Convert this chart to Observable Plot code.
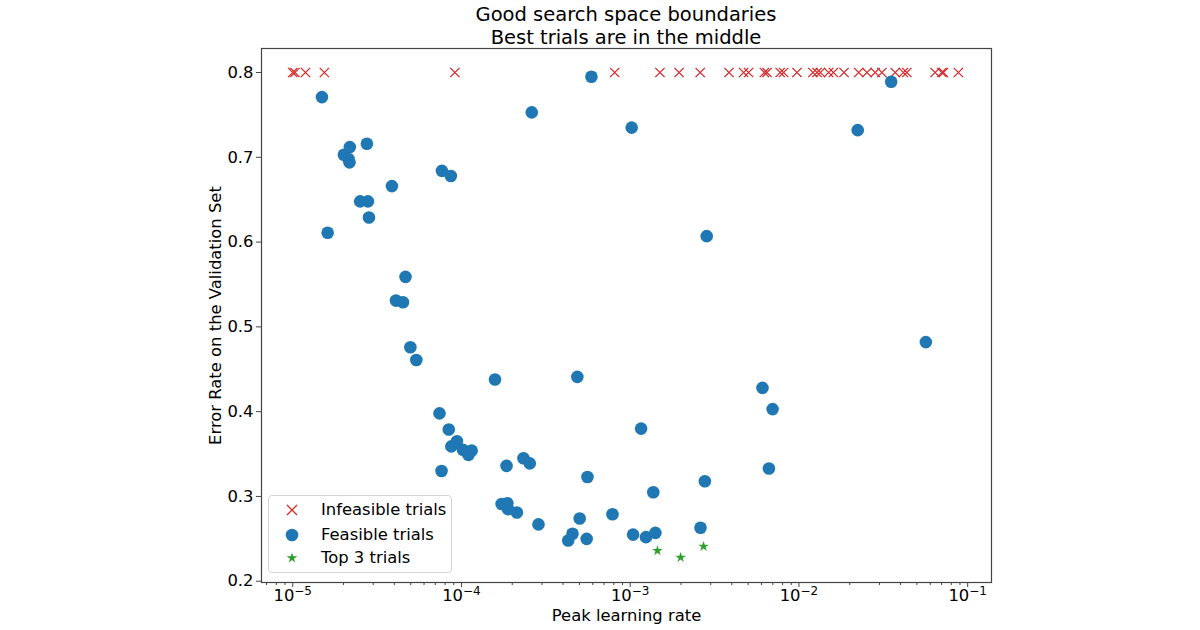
<!DOCTYPE html>
<html>
<head>
<meta charset="utf-8">
<script src="https://cdn.jsdelivr.net/npm/d3@7"></script>
<script src="https://cdn.jsdelivr.net/npm/@observablehq/plot@0.6"></script>
<style>
  html, body { margin: 0; padding: 0; background: #fff; }
  #wrap { position: relative; width: 1200px; height: 630px; font-family: "DejaVu Sans", sans-serif; color: #000; overflow: hidden; }
  #title { position: absolute; left: 261px; width: 730px; top: 0; height: 46px; padding-top: 3px; box-sizing: border-box; text-align: center; font-size: 19.5px; line-height: 23px; }
  #chart { position: absolute; left: 0; top: 46px; }
  #legend { position: absolute; left: 268px; top: 495px; width: 184px; height: 78px; box-sizing: border-box; border: 1px solid #d4d4d4; border-radius: 4px; background: rgba(255,255,255,0.8); }
  .row { position: absolute; left: 0; height: 24px; width: 100%; font-size: 16.4px; line-height: 24px; }
  .row svg { position: absolute; left: 13px; top: 2px; }
  .row span { position: absolute; left: 52px; top: 0; white-space: nowrap; }
</style>
</head>
<body>
<div id="wrap">
  <div id="title"><div>Good search space boundaries</div><div>Best trials are in the middle</div></div>
  <div id="chart"></div>
  <div id="legend"></div>
</div>
<script>
// ---- data ----
const infeasibleLR = [1.00e-5, 1.03e-5, 1.19e-5, 1.54e-5, 9.14e-5, 8.09e-4, 1.50e-3, 1.95e-3, 2.60e-3, 3.85e-3, 4.70e-3, 5.03e-3, 6.24e-3, 6.47e-3, 7.74e-3, 8.11e-3, 9.73e-3, 0.0121, 0.0128, 0.0134, 0.0150, 0.0160, 0.0185, 0.0226, 0.0253, 0.0283, 0.0310, 0.0372, 0.0416, 0.0436, 0.0641, 0.0703, 0.0718, 0.0881];
const infeasibleErr = infeasibleLR.map(() => 0.8);

const feasibleLR = [1.49e-5, 2.18e-5, 2.75e-5, 2.01e-5, 2.14e-5, 2.17e-5, 3.87e-5, 7.66e-5, 8.65e-5, 2.61e-4, 5.89e-4, 1.02e-3, 2.51e-5, 2.79e-5, 2.83e-5, 1.61e-5, 0.0352, 0.0223, 2.84e-3, 4.66e-5, 4.09e-5, 4.50e-5, 4.98e-5, 5.40e-5, 1.58e-4, 4.86e-4, 7.41e-5, 8.41e-5, 0.0565, 6.08e-3, 6.98e-3, 1.16e-3, 9.40e-5, 8.71e-5, 1.02e-4, 1.15e-4, 1.10e-4, 7.62e-5, 2.33e-4, 2.54e-4, 1.85e-4, 5.58e-4, 1.73e-4, 1.87e-4, 1.89e-4, 2.13e-4, 2.86e-4, 5.02e-4, 7.85e-4, 4.55e-4, 4.29e-4, 5.52e-4, 1.04e-3, 1.24e-3, 1.41e-3, 2.61e-3, 6.64e-3, 2.77e-3, 1.37e-3];
const feasibleErr = [0.771, 0.712, 0.716, 0.703, 0.698, 0.694, 0.666, 0.684, 0.678, 0.753, 0.795, 0.735, 0.648, 0.648, 0.629, 0.611, 0.789, 0.732, 0.607, 0.559, 0.531, 0.529, 0.476, 0.461, 0.438, 0.441, 0.398, 0.379, 0.482, 0.428, 0.403, 0.380, 0.365, 0.359, 0.355, 0.354, 0.349, 0.330, 0.345, 0.339, 0.336, 0.323, 0.291, 0.292, 0.285, 0.281, 0.267, 0.274, 0.279, 0.256, 0.248, 0.250, 0.255, 0.252, 0.257, 0.263, 0.333, 0.318, 0.305];

const topLR = [1.45e-3, 1.99e-3, 2.72e-3];
const topErr = [0.236, 0.228, 0.241];

const xTicks = [1e-5, 1e-4, 1e-3, 1e-2, 1e-1];
const xTickExponents = ["−5", "−4", "−3", "−2", "−1"];
const xMinorTicks = [7e-6, 8e-6, 9e-6,
  2e-5, 3e-5, 4e-5, 5e-5, 6e-5, 7e-5, 8e-5, 9e-5,
  2e-4, 3e-4, 4e-4, 5e-4, 6e-4, 7e-4, 8e-4, 9e-4,
  2e-3, 3e-3, 4e-3, 5e-3, 6e-3, 7e-3, 8e-3, 9e-3,
  2e-2, 3e-2, 4e-2, 5e-2, 6e-2, 7e-2, 8e-2, 9e-2];
const yTicks = [0.2, 0.3, 0.4, 0.5, 0.6, 0.7, 0.8];

const legendLabels = ["Infeasible trials", "Feasible trials", "Top 3 trials"];
const colors = {infeasible: "#d62728", feasible: "#1f77b4", top: "#2ca02c"};

// ---- tables ----
const infeasible = infeasibleLR.map((x, i) => ({x, y: infeasibleErr[i]}));
const feasible = feasibleLR.map((x, i) => ({x, y: feasibleErr[i]}));
const top3 = topLR.map((x, i) => ({x, y: topErr[i]}));

const axisColor = "#444";
const fs = 16.4;
const chart = Plot.plot({
  width: 1200,
  height: 584,
  marginLeft: 261,
  marginRight: 209,
  marginTop: 2,
  marginBottom: 48,
  style: {fontFamily: "DejaVu Sans, sans-serif", fontSize: fs + "px", color: "#000", background: "transparent"},
  x: {type: "log", domain: [6.53e-6, 0.1384]},
  y: {domain: [0.1985, 0.8283]},
  marks: [
    Plot.axisX({ticks: xMinorTicks, tickSize: 3, tickFormat: () => "", stroke: axisColor, label: null}),
    Plot.axisX({ticks: xTicks, tickSize: 5, tickPadding: 2, fontSize: fs, stroke: axisColor,
      tickFormat: (d) => "10" + xTickExponents[xTicks.findIndex(t => Math.abs(t - d) / t < 1e-9)],
      label: "Peak learning rate", labelAnchor: "center", labelArrow: "none", labelOffset: 38}),
    Plot.axisY({ticks: yTicks, tickSize: 5, tickPadding: 3, fontSize: fs, stroke: axisColor,
      tickFormat: d3.format(".1f"),
      label: "Error Rate on the Validation Set", labelAnchor: "center", labelArrow: "none", labelOffset: 52}),
    Plot.frame({stroke: axisColor, strokeWidth: 1.2}),
    Plot.dot(infeasible, {x: "x", y: "y", symbol: "times", r: 4.3, stroke: colors.infeasible, strokeWidth: 1.3}),
    Plot.dot(feasible, {x: "x", y: "y", symbol: "circle", r: 6.3, fill: colors.feasible, stroke: "none"}),
    Plot.dot(top3, {x: "x", y: "y", symbol: "star", r: 3.3, fill: colors.top, stroke: "none"})
  ]
});
document.getElementById("chart").appendChild(chart);

// render x tick labels as 10 with a raised exponent (like matplotlib mathtext)
d3.select(chart).selectAll("text").each(function () {
  const m = /^10(−\d)$/.exec(this.textContent);
  if (!m) return;
  const el = d3.select(this);
  el.text(null);
  el.append("tspan").text("10");
  el.append("tspan").attr("font-size", "12px").attr("dy", "-6.5").text(m[1]);
});

// ---- legend (HTML) ----
const legend = document.getElementById("legend");
const markerSvgs = [
  `<svg width="20" height="20" viewBox="-10 -10 20 20"><path d="M-5,-5L5,5M-5,5L5,-5" stroke="${colors.infeasible}" stroke-width="1.3" fill="none"/></svg>`,
  `<svg width="20" height="20" viewBox="-10 -10 20 20"><circle r="6.3" fill="${colors.feasible}"/></svg>`,
  `<svg width="20" height="20" viewBox="-10 -10 20 20"><path d="${d3.symbol(d3.symbolStar, Math.PI * 3.3 * 3.3)()}" fill="${colors.top}"/></svg>`
];
const rowTops = [2, 27, 50];
legendLabels.forEach((label, i) => {
  const row = document.createElement("div");
  row.className = "row";
  row.style.top = rowTops[i] + "px";
  row.innerHTML = markerSvgs[i] + `<span>${label}</span>`;
  legend.appendChild(row);
});
</script>
</body>
</html>
